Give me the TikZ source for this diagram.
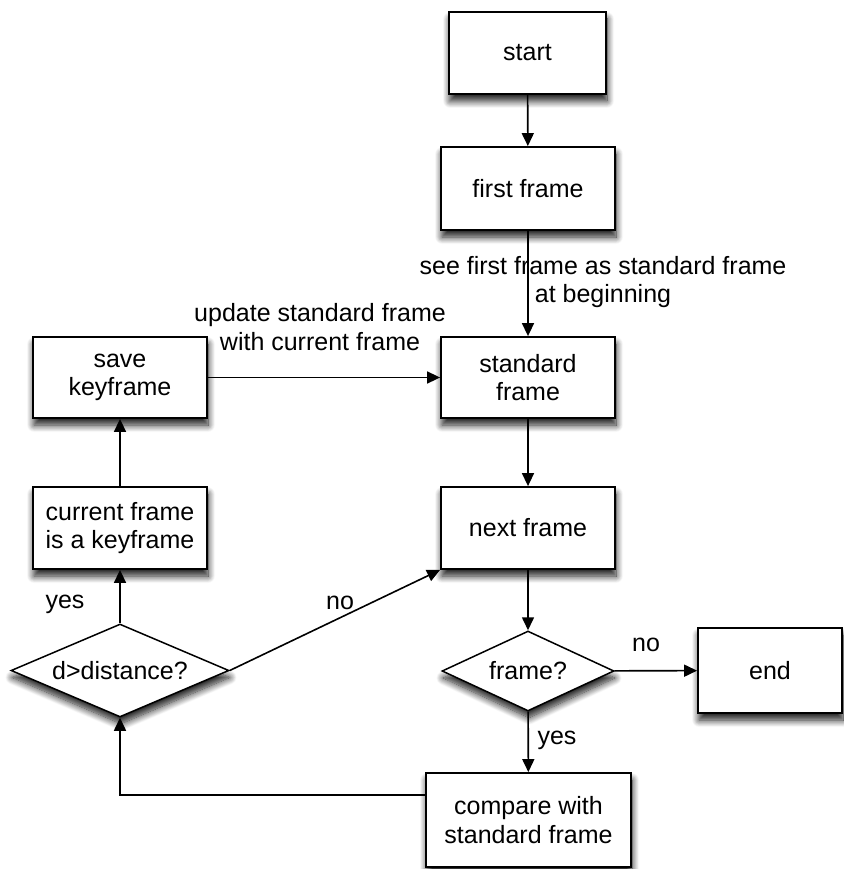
\documentclass[tikz,border=0pt]{standalone}
\usepackage{fontspec}
\setmainfont{Liberation Sans}
\usetikzlibrary{shapes.geometric,arrows.meta,shadows.blur}
\begin{document}
\begin{tikzpicture}[x=1pt,y=-1pt,
  font=\fontsize{25}{28.5}\selectfont,
  shade/.style={blur shadow={shadow xshift=1pt,shadow yshift=-7pt,shadow blur steps=12,shadow blur radius=7pt,shadow opacity=90}},
  box/.style={draw=black,line width=1.8pt,fill=white,rectangle,inner sep=0pt,align=center,shade},
  decision/.style={draw=black,line width=1.5pt,fill=white,diamond,inner sep=0pt,align=center,shade},
  arr/.style={line width=1.6pt,-{Triangle[length=13pt,width=12pt]}},
  lbl/.style={inner sep=0pt,align=center}]
\useasboundingbox (0,0) rectangle (843,869);

% process boxes
\node[box,minimum width=157pt,minimum height=82pt] (start) at (527.5,53) {start};
\node[box,minimum width=174pt,minimum height=83pt] (first) at (528,188.5) {first frame};
\node[box,minimum width=174pt,minimum height=81pt] (standard) at (528,377.5) {standard\\frame};
\node[box,minimum width=174pt,minimum height=82pt] (next) at (528,528) {next frame};
\node[box,minimum width=144pt,minimum height=85pt] (end) at (770,670.5) {end};
\node[box,minimum width=205pt,minimum height=94pt] (compare) at (528.5,820) {compare with\\standard frame};
\node[box,minimum width=174pt,minimum height=81pt] (save) at (120,377.5) {save\\keyframe};
\node[box,minimum width=174pt,minimum height=82pt] (current) at (120,528) {current frame\\is a keyframe};

% decisions
\node[decision,shape aspect=2.15,minimum width=172pt,minimum height=80pt] (frameq) at (528,671) {frame?};
\node[decision,shape aspect=2.34,minimum width=218pt,minimum height=93pt] (dist) at (120,670.5) {d>distance?};

% connectors
\draw[arr] (start) -- (first);
\draw[arr] (first) -- (standard);
\node[lbl] (seefirst) at (603,282) {see first frame as standard frame\\at beginning};
\draw[arr] (standard) -- (next);
\draw[arr] (next) -- (frameq);
\draw[arr] (frameq) -- (compare);
\node[lbl] (yesA) at (557,740) {yes};
\draw[arr] (frameq) -- (end);
\node[lbl] (noA) at (646,645) {no};
\coordinate (back) at (120,795);
\draw[arr] (compare.west |- back) -- (back) -- (dist.south);
\draw[arr] (dist) -- (current);
\node[lbl] (yesB) at (65,604) {yes};
\draw[arr] (current) -- (save);
\draw[arr] (save.east) -- (standard.west);
\node[lbl] (update) at (320,327) {update standard frame\\with current frame};
\draw[arr] (dist.east) -- (next.south west);
\node[lbl] (noB) at (340,603) {no};
\end{tikzpicture}
\end{document}
